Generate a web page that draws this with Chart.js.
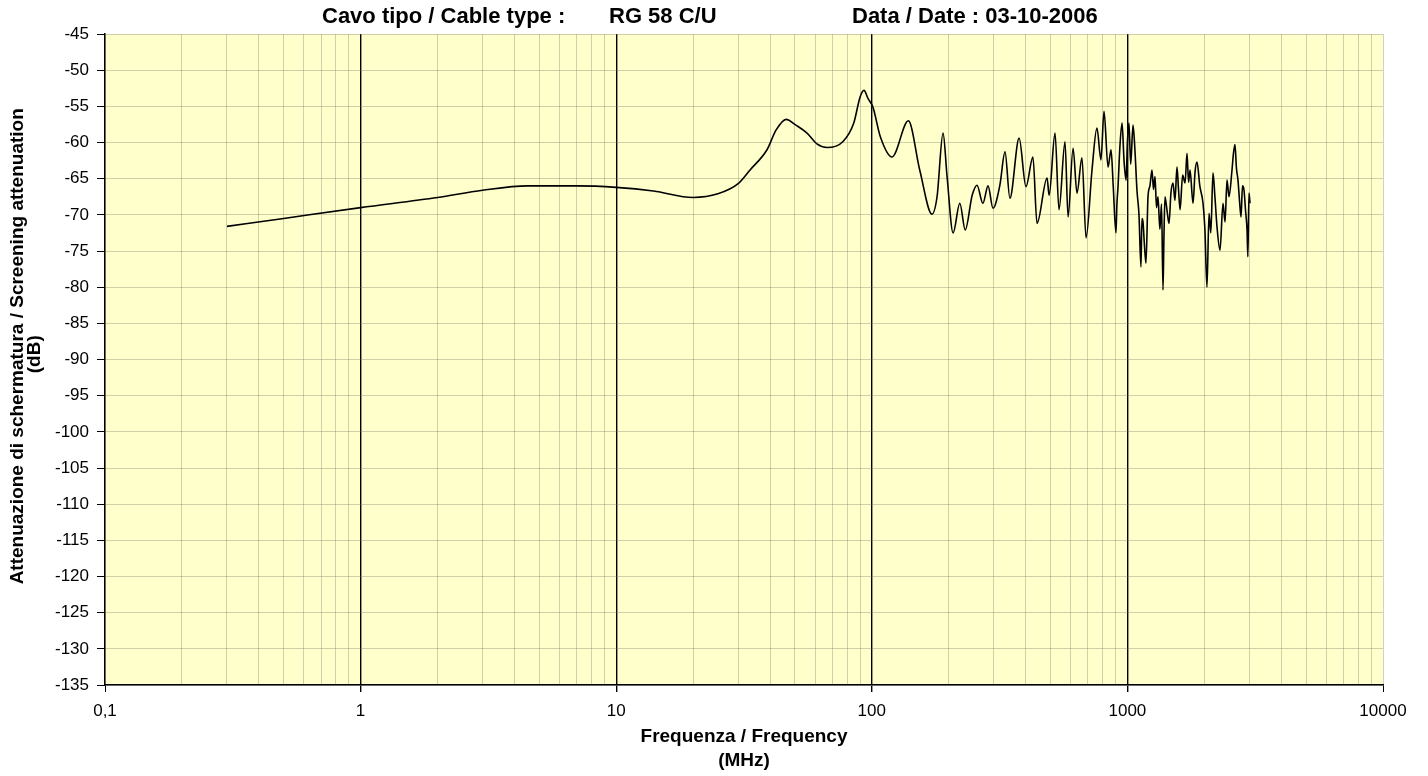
<!DOCTYPE html>
<html>
<head>
<meta charset="utf-8">
<script src="https://cdn.jsdelivr.net/npm/chart.js@4.4.1/dist/chart.umd.min.js"></script>
<style>
  html, body { margin: 0; padding: 0; background: #fff; }
  #wrap { width: 1428px; height: 776px; position: relative; }
</style>
</head>
<body>
<div id="wrap"><canvas id="chart"></canvas></div>
<script>
// Frequency (MHz) and screening attenuation (dB)
const freq = [
  0.3, 0.5, 1, 2, 3, 4.5, 7, 10, 14, 20, 25, 30, 33.4, 38.9, 42.2, 46.2, 50.5, 55.8, 61, 66.8,
  77, 85, 90, 93.2, 96.6, 101, 108, 120, 139, 154, 172, 180, 190, 197, 208, 221, 232, 247, 258, 272,
  285, 298, 317, 332, 347, 377, 401, 427, 443, 485, 494, 521, 540, 570, 586, 613, 635, 664, 689, 727,
  760, 788, 810, 840, 863, 880, 902, 910, 919, 935, 953, 970, 988, 1000, 1014, 1030, 1052, 1070, 1090, 1110,
  1130, 1140, 1151, 1165, 1182, 1204, 1225, 1248, 1265, 1282, 1300, 1317, 1340, 1360, 1378, 1390, 1403, 1430, 1455, 1480,
  1508, 1535, 1563, 1585, 1607, 1645, 1681, 1711, 1735, 1758, 1806, 1840, 1872, 1920, 1976, 2010, 2048, 2086, 2120, 2162,
  2200, 2242, 2303, 2366, 2410, 2453, 2497, 2566, 2600, 2636, 2670, 2708, 2745, 2783, 2820, 2859, 2900, 2938, 2960, 2990,
  3018
];
const atten = [
  -71.6, -70.5, -69.0, -67.6, -66.6, -66.0, -66.0, -66.2, -66.7, -67.6, -67.1, -65.7, -63.8, -61.0, -58.3, -56.8, -57.6, -58.7, -60.2, -60.7,
  -59.9, -57.3, -53.7, -52.8, -53.9, -55.1, -59.2, -62.0, -57.0, -63.8, -69.9, -67.5, -58.7, -64.7, -72.5, -68.4, -72.1, -67.3, -65.9, -68.4,
  -66.0, -69.1, -65.9, -61.3, -67.7, -59.4, -66.1, -62.0, -71.2, -64.9, -67.3, -58.7, -69.3, -59.9, -70.3, -60.8, -67.0, -62.1, -73.2, -63.8,
  -58.0, -62.4, -55.7, -63.4, -61.0, -66.0, -72.5, -68.5, -66.1, -60.5, -57.3, -62.5, -65.2, -60.0, -57.3, -63.0, -57.6, -61.0, -66.6, -70.0,
  -77.2, -70.5, -71.0, -74.0, -76.7, -67.5, -66.0, -63.8, -66.5, -64.7, -69.0, -67.5, -72.0, -68.5, -80.4, -73.0, -67.5, -69.5, -71.2, -67.0,
  -65.6, -68.0, -63.4, -66.5, -69.3, -64.5, -65.6, -61.5, -65.5, -63.8, -68.4, -64.0, -62.7, -66.0, -68.4, -72.0, -80.0, -69.8, -72.5, -64.2,
  -67.5, -71.7, -74.9, -68.4, -71.0, -65.2, -67.5, -63.8, -61.5, -60.3, -63.5, -65.2, -68.0, -70.3, -66.0, -66.6, -69.5, -72.1, -75.8, -67.0,
  -68.4
];

// axis ticks
const decades = [0.1, 1, 10, 100, 1000, 10000];
const decadeLabels = ['0,1', '1', '10', '100', '1000', '10000'];
const yMin = -135, yMax = -45, yStep = 5;

const titleParts = ['Cavo tipo / Cable type :', 'RG 58 C/U', 'Data / Date : 03-10-2006'];

const FONT = '"Liberation Sans", Arial, sans-serif';
const MINOR_GRID = 'rgba(120,120,100,0.35)';

function decadeIndex(v) {
  return decades.findIndex(d => Math.abs(d - v) / d < 1e-6);
}

const plotBg = {
  id: 'plotBg',
  beforeDraw(chart) {
    const {ctx, chartArea: a} = chart;
    ctx.save();
    ctx.fillStyle = '#FFFFCC';
    ctx.fillRect(a.left, a.top, a.right - a.left, a.bottom - a.top);
    ctx.restore();
  }
};

const topTitle = {
  id: 'topTitle',
  afterDraw(chart) {
    const ctx = chart.ctx;
    const xs = [322, 609, 852];
    ctx.save();
    ctx.font = 'bold 22px ' + FONT;
    ctx.fillStyle = '#000';
    ctx.textBaseline = 'middle';
    ctx.textAlign = 'left';
    titleParts.forEach((t, i) => ctx.fillText(t, xs[i], 17));
    ctx.restore();
  }
};

const ctx = document.getElementById('chart').getContext('2d');
const chart = new Chart(ctx, {
  type: 'line',
  data: {
    datasets: [{
      data: freq.map((f, i) => ({x: f, y: atten[i]})),
      borderColor: '#000',
      borderWidth: 1.6,
      pointRadius: 0,
      cubicInterpolationMode: 'monotone',
      fill: false
    }]
  },
  options: {
    responsive: true,
    maintainAspectRatio: false,
    animation: false,
    layout: { padding: { top: 34, right: 45, left: 0, bottom: 0 } },
    plugins: {
      legend: { display: false },
      tooltip: { enabled: false },
      title: { display: false }
    },
    scales: {
      x: {
        type: 'logarithmic',
        min: 0.1,
        max: 10000,
        afterBuildTicks(scale) {
          const ticks = [];
          for (let i = 0; i < decades.length - 1; i++) {
            for (let m = 1; m < 10; m++) ticks.push({value: decades[i] * m});
          }
          ticks.push({value: decades[decades.length - 1]});
          scale.ticks = ticks;
        },
        afterFit(scale) { scale.height = 91; },
        ticks: {
          autoSkip: false,
          maxRotation: 0,
          padding: 9,
          color: '#000',
          font: { family: FONT, size: 17 },
          callback(v) {
            const i = decadeIndex(v);
            return i >= 0 ? decadeLabels[i] : '';
          }
        },
        grid: {
          color(c) {
            const v = c.tick ? c.tick.value : 0;
            const i = decadeIndex(v);
            if (i > 0 && i < decades.length - 1) return '#000';
            return MINOR_GRID;
          },
          lineWidth(c) {
            const v = c.tick ? c.tick.value : 0;
            const i = decadeIndex(v);
            return (i > 0 && i < decades.length - 1) ? 1.4 : 1;
          },
          tickColor(c) {
            const v = c.tick ? c.tick.value : 0;
            return decadeIndex(v) >= 0 ? '#000' : 'rgba(0,0,0,0)';
          },
          tickLength: 7
        },
        border: { color: '#000', width: 1.5 },
        title: {
          display: true,
          text: ['Frequenza / Frequency', '(MHz)'],
          color: '#000',
          font: { family: FONT, size: 19, weight: 'bold', lineHeight: 24 / 19 },
          padding: { top: 0, bottom: 3 }
        }
      },
      y: {
        min: yMin,
        max: yMax,
        afterFit(scale) { scale.width = 105; },
        ticks: {
          stepSize: yStep,
          padding: 8,
          color: '#000',
          font: { family: FONT, size: 17 },
          callback(v) { return String(v); }
        },
        grid: {
          color: MINOR_GRID,
          tickColor: '#000',
          tickLength: 8
        },
        border: { color: '#000', width: 1.5 },
        title: {
          display: true,
          // leading spaces nudge the rotated label upward like the original
          text: ['     Attenuazione di schermatura / Screening attenuation', '  (dB)'],
          color: '#000',
          font: { family: FONT, size: 19, weight: 'bold', lineHeight: 17 / 19 },
          padding: { top: 9.5, bottom: 0 }
        }
      }
    }
  },
  plugins: [plotBg, topTitle]
});
</script>
</body>
</html>
